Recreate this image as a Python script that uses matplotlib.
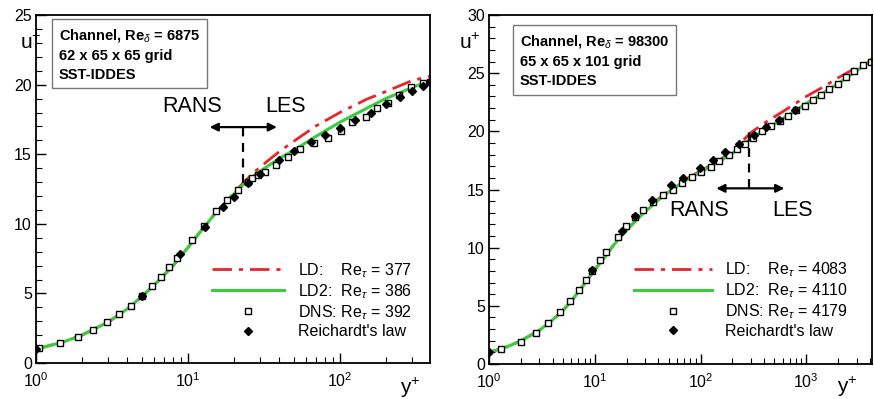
import numpy as np
import matplotlib
matplotlib.use("Agg")
import matplotlib.pyplot as plt
from matplotlib.lines import Line2D

plt.rcParams['font.family'] = ['Liberation Sans', 'DejaVu Sans']
plt.rcParams['mathtext.fontset'] = 'custom'
plt.rcParams['mathtext.rm'] = 'Liberation Sans'
plt.rcParams['mathtext.it'] = 'Liberation Sans:italic'
plt.rcParams['mathtext.bf'] = 'Liberation Sans:bold'

# ---- left panel: Re_delta = 6875 ----
l_ld_y = [1, 1.5, 2, 3, 4, 5, 6, 7, 8, 10, 12, 15, 18, 22, 26, 30, 40, 50, 70, 100, 150, 200, 300, 392]
l_ld_u = [1.0, 1.5, 2.0, 2.95, 3.9, 4.8, 5.6, 6.35, 7.0, 8.3, 9.4, 10.7, 11.65, 12.7, 13.5, 14.1, 15.2, 15.95, 17.05, 18.0, 18.95, 19.5, 20.3, 20.6]
l_ld2_y = [1, 1.5, 2, 3, 4, 5, 6, 7, 8, 10, 12, 15, 18, 22, 26, 30, 40, 50, 70, 100, 150, 200, 300, 392]
l_ld2_u = [1.0, 1.5, 2.0, 2.95, 3.9, 4.8, 5.6, 6.35, 7.0, 8.3, 9.4, 10.7, 11.6, 12.6, 13.3, 13.8, 14.7, 15.3, 16.3, 17.3, 18.3, 19.0, 19.8, 20.3]
l_dns_y = [1.05, 1.43, 1.88, 2.36, 2.93, 3.53, 4.19, 4.95, 5.77, 6.6, 7.47, 8.44, 10.6, 12.7, 15.4, 18.1, 21.2, 24.9, 26.4,
           28.9, 32.1, 37.7, 45.6, 55, 67.6, 83, 101.7, 121, 148, 176, 208, 244, 293, 350, 390]
l_dns_u = [1.08, 1.45, 1.9, 2.4, 2.93, 3.5, 4.13, 4.8, 5.5, 6.2, 6.9, 7.56, 8.84, 9.86, 10.9, 11.7, 12.4, 13.0, 13.3,
           13.5, 13.7, 14.2, 14.8, 15.35, 15.8, 16.2, 16.7, 17.3, 17.7, 18.3, 18.7, 19.25, 19.8, 20.1, 20.2]
l_rei_y = [1.0, 4.96, 8.9, 12.9, 16.9, 20, 25, 30, 40, 50, 65, 80, 100, 125, 160, 200, 250, 300, 350, 390]
l_rei_u = [1.0, 4.84, 7.8, 9.8, 11.2, 11.9, 12.9, 13.6, 14.6, 15.2, 15.9, 16.4, 16.9, 17.45, 18.0, 18.6, 19.1, 19.55, 19.9, 20.2]

# ---- right panel: Re_delta = 98300 ----
r_ld2_y = [1, 1.5, 2, 3, 4, 5, 6, 7, 8, 10, 12, 15, 20, 25, 30, 40, 50, 70, 100, 150, 200, 300, 400, 600, 1000, 1500, 2000, 3000, 4179]
r_ld2_u = [1.0, 1.5, 2.0, 2.9, 3.8, 4.6, 5.4, 6.2, 6.9, 8.1, 9.0, 10.2, 11.5, 12.4, 13.1, 14.1, 14.8, 15.7, 16.5, 17.4, 18.1, 19.4, 20.1, 21.1, 22.4, 23.4, 24.1, 25.2, 26.2]
r_ld_y = [1, 1.5, 2, 3, 4, 5, 6, 7, 8, 10, 12, 15, 20, 25, 30, 40, 50, 70, 100, 150, 200, 300, 400, 600, 1000, 1500, 2000, 3000, 4179]
r_ld_u = [1.0, 1.5, 2.0, 2.9, 3.8, 4.6, 5.4, 6.2, 6.9, 8.1, 9.0, 10.2, 11.5, 12.45, 13.2, 14.2, 14.9, 15.8, 16.6, 17.5, 18.3, 19.9, 20.7, 21.7, 23.0, 23.9, 24.6, 25.5, 26.2]
r_dns_y = [1.30, 1.99, 2.77, 3.65, 4.7, 5.86, 7.03, 8.2, 9.4, 11.2, 12.9, 16.5, 19.9, 23.8, 28.5, 35.5, 44.2, 55, 67, 83.5,
           101, 125, 150, 184, 220, 264, 316, 385, 465, 560, 668, 805, 966, 1160, 1370, 1650, 1980, 2370, 2850, 3420, 4110]
r_dns_u = [1.29, 1.92, 2.69, 3.55, 4.47, 5.39, 6.34, 7.22, 8.0, 8.9, 9.6, 10.9, 11.87, 12.67, 13.24, 13.95, 14.53, 15.0, 15.6, 16.1,
           16.5, 16.97, 17.45, 18.0, 18.45, 18.95, 19.4, 20.06, 20.47, 20.9, 21.3, 21.8, 22.2, 22.7, 23.1, 23.6, 24.1, 24.7, 25.2, 25.7, 26.0]
r_rei_y = [1.0, 9.4, 18, 24, 35, 53, 69, 98, 131, 172, 233, 320, 415, 550, 780]
r_rei_u = [1.0, 8.05, 11.4, 12.7, 14.1, 15.35, 16.0, 16.85, 17.55, 18.2, 18.95, 19.7, 20.35, 21.0, 21.8]

panels = [
    dict(ld=(l_ld_y, l_ld_u), ld2=(l_ld2_y, l_ld2_u), dns=(l_dns_y, l_dns_u), rei=(l_rei_y, l_rei_u),
         xmax=392, ymax=25, box="Channel, Re$_\\delta$ = 6875\n62 x 65 x 65 grid\nSST-IDDES",
         labels=["LD:    Re$_\\tau$ = 377", "LD2:  Re$_\\tau$ = 386", "DNS: Re$_\\tau$ = 392", "Reichardt's law"]),
    dict(ld=(r_ld_y, r_ld_u), ld2=(r_ld2_y, r_ld2_u), dns=(r_dns_y, r_dns_u), rei=(r_rei_y, r_rei_u),
         xmax=4179, ymax=30, box="Channel, Re$_\\delta$ = 98300\n65 x 65 x 101 grid\nSST-IDDES",
         labels=["LD:    Re$_\\tau$ = 4083", "LD2:  Re$_\\tau$ = 4110", "DNS: Re$_\\tau$ = 4179", "Reichardt's law"]),
]

fig = plt.figure(figsize=(8.74, 3.99), dpi=100)
ax1 = fig.add_axes([0.0412, 0.0902, 0.4508, 0.872])
ax2 = fig.add_axes([0.5595, 0.0877, 0.4382, 0.8747])
axes = [ax1, ax2]

red = '#e8262a'
green = '#3ccb3c'

for ax, p in zip(axes, panels):
    ax.plot(*p['ld'], color=red, lw=2, dashes=(7, 2.5, 1.5, 2.5))
    ax.plot(*p['ld2'], color=green, lw=2.2)
    ax.plot(*p['dns'], ls='none', marker='s', ms=4.6, mfc='white', mec='black', mew=1.0)
    ax.plot(*p['rei'], ls='none', marker='D', ms=3.6, mfc='black', mec='black')
    ax.set_xscale('log')
    ax.set_xlim(1, p['xmax'])
    ax.set_ylim(0, p['ymax'])
    ax.set_yticks(np.arange(0, p['ymax'] + 1, 5))
    ax.set_yticks(np.arange(0, p['ymax'] + 1, 1), minor=True)
    ax.tick_params(which='both', direction='in', top=False, right=False, labelsize=11.5, pad=3)
    ax.tick_params(axis='x', which='major', pad=6)
    ax.tick_params(which='major', length=7, width=1)
    ax.tick_params(which='minor', length=4, width=0.8)
    for s in ax.spines.values():
        s.set_linewidth(1.3)

    handles = [Line2D([], [], color=red, lw=2, dashes=(7, 2.5, 1.5, 2.5)),
               Line2D([], [], color=green, lw=2.2),
               Line2D([], [], ls='none', marker='s', ms=4.6, mfc='white', mec='black', mew=1.0),
               Line2D([], [], ls='none', marker='D', ms=3.6, mfc='black', mec='black')]
    p['handles'] = handles

# info boxes
ax1.text(0.058, 0.966, panels[0]['box'], transform=ax1.transAxes, ha='left', va='top',
         fontsize=10.5, fontweight='bold', linespacing=1.45,
         bbox=dict(boxstyle='square,pad=0.45', fc='white', ec='#777777', lw=1))
ax2.text(0.081, 0.948, panels[1]['box'], transform=ax2.transAxes, ha='left', va='top',
         fontsize=10.5, fontweight='bold', linespacing=1.45,
         bbox=dict(boxstyle='square,pad=0.45', fc='white', ec='#777777', lw=1))

# legends
ax1.legend(panels[0]['handles'], panels[0]['labels'], loc='center left', bbox_to_anchor=(0.447, 0.181),
           frameon=False, fontsize=11.5, handlelength=4.5, handletextpad=0.9, labelspacing=0.15,
           borderpad=0, borderaxespad=0)
ax2.legend(panels[1]['handles'], panels[1]['labels'], loc='center left', bbox_to_anchor=(0.379, 0.185),
           frameon=False, fontsize=11.5, handlelength=4.9, handletextpad=0.8, labelspacing=0.15,
           borderpad=0, borderaxespad=0)

# axis labels
for ax, ux, uy, yx, yy in [(ax1, -0.04, 0.92, 0.924, -0.072), (ax2, -0.078, 0.92, 0.909, -0.066)]:
    ax.text(ux, uy, "u$^{+}$", transform=ax.transAxes, fontsize=15, ha='left', va='center')
    ax.text(yx, yy, "y$^{+}$", transform=ax.transAxes, fontsize=15, ha='left', va='center')

# RANS / LES interface markers
left_iface, left_arrow = 23, (13.9, 38.5)
ax1.plot([left_iface, left_iface], [12.9, 16.95], color='black', lw=1.6, dashes=(4, 3))
ax1.annotate('', xy=(left_arrow[0], 16.95), xytext=(left_arrow[1], 16.95),
             arrowprops=dict(arrowstyle='<|-|>', color='black', lw=1.6, mutation_scale=12, shrinkA=0, shrinkB=0))
ax1.text(10.6, 18.4, 'RANS', fontsize=15.5, ha='center', va='center')
ax1.text(43.6, 18.4, 'LES', fontsize=15.5, ha='center', va='center')

right_iface, right_arrow = 290, (141, 620)
ax2.plot([right_iface, right_iface], [15.1, 20.5], color='black', lw=1.6, dashes=(4, 3))
ax2.annotate('', xy=(right_arrow[0], 15.1), xytext=(right_arrow[1], 15.1),
             arrowprops=dict(arrowstyle='<|-|>', color='black', lw=1.6, mutation_scale=12, shrinkA=0, shrinkB=0))
ax2.text(98, 13.2, 'RANS', fontsize=15.5, ha='center', va='center')
ax2.text(738, 13.2, 'LES', fontsize=15.5, ha='center', va='center')

fig.savefig('out.png', dpi=100)
